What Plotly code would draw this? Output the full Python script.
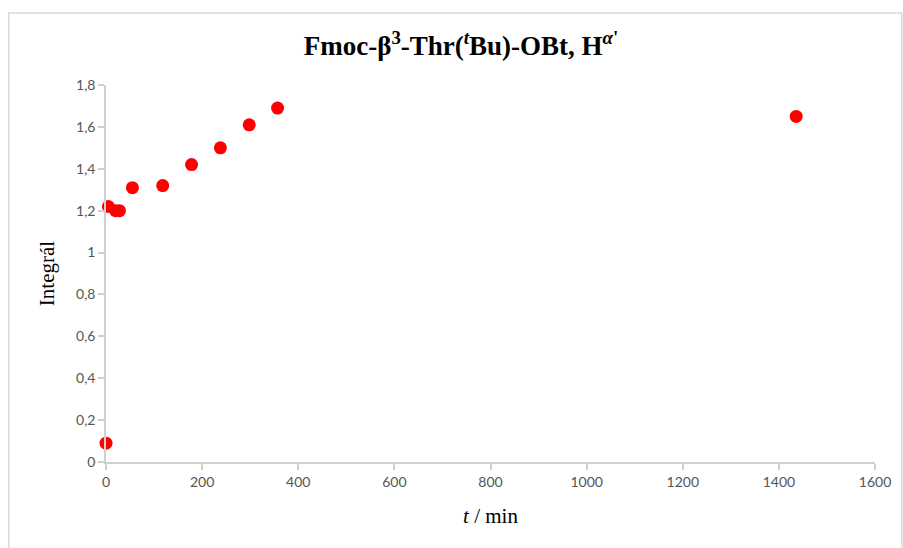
import plotly.graph_objects as go

# Reaction time (min) and integral of the H-alpha' signal
time_min = [0, 5, 20, 28, 55, 118, 178, 238, 298, 357, 1436]
integral = [0.09, 1.22, 1.20, 1.20, 1.31, 1.32, 1.42, 1.50, 1.61, 1.69, 1.65]

x_ticks = [0, 200, 400, 600, 800, 1000, 1200, 1400, 1600]
y_ticks = [0, 0.2, 0.4, 0.6, 0.8, 1.0, 1.2, 1.4, 1.6, 1.8]
y_tick_text = ["0", "0,2", "0,4", "0,6", "0,8", "1", "1,2", "1,4", "1,6", "1,8"]

W, H = 903, 548
L, R, T, B = 106, 22, 85, 86
pw, ph = W - L - R, H - T - B

fig = go.Figure(
    go.Scatter(
        x=time_min, y=integral, mode="markers",
        marker=dict(color="#ff0000", size=13, line=dict(width=0)),
        cliponaxis=False, showlegend=False,
    )
)

tick_font = dict(family="Lato, Open Sans, sans-serif", size=14, color="#555555")
axis_col = "#d0d0d0"

fig.update_xaxes(
    range=[0, 1600], tickvals=x_ticks, ticktext=[str(v) for v in x_ticks],
    showgrid=False, zeroline=False, showline=True, linecolor=axis_col, linewidth=1.5,
    ticks="outside", ticklen=6, tickcolor=axis_col, tickwidth=1.5,
    tickfont=tick_font,
    title=dict(text="<i>t</i> / min", font=dict(family="Liberation Serif", size=21, color="#000"),
               standoff=20),
)
fig.update_yaxes(
    range=[0, 1.8], tickvals=y_ticks, ticktext=y_tick_text,
    showgrid=False, zeroline=False, showline=True, linecolor=axis_col, linewidth=1.5,
    ticks="outside", ticklen=6, tickcolor=axis_col, tickwidth=1.5,
    tickfont=tick_font,
    title=dict(text="Integrál", font=dict(family="Liberation Serif", size=21, color="#000"),
               standoff=16),
)

# Light frame around the chart area
fig.add_shape(
    type="rect", xref="paper", yref="paper",
    x0=(8 - L) / pw, x1=(W + 5 - L) / pw,
    y0=-(H + 5 - T - ph) / ph, y1=(H - 13 - B) / ph,
    line=dict(color="#d9d9d9", width=1.5), fillcolor="rgba(0,0,0,0)", layer="below",
)

fig.update_layout(
    width=W, height=H,
    margin=dict(l=L, r=R, t=T, b=B),
    paper_bgcolor="white", plot_bgcolor="white",
    title=dict(
        text="<b>Fmoc-β<sup>3</sup>-Thr(<sup><i>t</i></sup>Bu)-OBt, H<sup><i>α</i>'</sup></b>",
        x=461 / W, xanchor="center", y=1 - 46 / H, yanchor="middle",
        font=dict(family="Liberation Serif", size=27, color="#000"),
    ),
)

fig.write_html("out.html")
